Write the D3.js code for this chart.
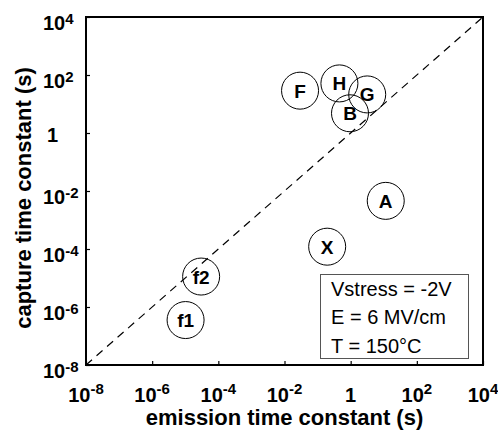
<!DOCTYPE html>
<html>
<head>
<meta charset="utf-8">
<script src="https://cdn.jsdelivr.net/npm/d3@7"></script>
<style>
  body { margin: 0; background: #fff; }
  text { font-family: "Liberation Sans", Arial, sans-serif; }
  .tick-label { font-family: "Liberation Sans Narrow", "Arial Narrow", "Liberation Sans", sans-serif; }
</style>
</head>
<body>
<div id="chart"></div>
<script>
// trap labels and their (emission, capture) time constants in seconds
var traps = ["F", "H", "G", "B", "A", "X", "f2", "f1"];
var emission = [10 ** -1.53, 10 ** -0.34, 10 ** 0.5, 10 ** -0.02, 10 ** 1.06, 10 ** -0.71, 10 ** -4.52, 10 ** -4.99];
var capture = [10 ** 1.46, 10 ** 1.71, 10 ** 1.33, 10 ** 0.68, 10 ** -2.34, 10 ** -3.92, 10 ** -4.95, 10 ** -6.45];

var tickExps = [-8, -6, -4, -2, 0, 2, 4];
var infoLines = ["Vstress = -2V", "E = 6 MV/cm", "T = 150°C"];

var svgWidth = 498;
var svgHeight = 433;
var margin = { top: 17, right: 15, bottom: 68, left: 86 };
var width = svgWidth - margin.left - margin.right;
var height = svgHeight - margin.top - margin.bottom;

var svg = d3.select("#chart")
  .append("svg")
  .attr("width", svgWidth)
  .attr("height", svgHeight);

var g = svg.append("g")
  .attr("transform", `translate(${margin.left}, ${margin.top})`);

var x = d3.scaleLog().domain([1e-8, 1e4]).range([0, width]);
var y = d3.scaleLog().domain([1e-8, 1e4]).range([height, 0]);

var tickVals = tickExps.map(e => 10 ** e);

function tickLabel(sel, supShift) {
  sel.each(function(d) {
    var e = Math.round(Math.log10(d));
    var t = d3.select(this).text(null);
    if (e === 0) {
      t.append("tspan").text("1");
    } else {
      t.append("tspan").text("10");
      t.append("tspan").attr("dy", supShift).attr("font-size", "15px").text(e);
    }
  });
}

// axes with inward ticks
var xAxis = g.append("g")
  .attr("transform", `translate(0, ${height})`)
  .call(d3.axisBottom(x).tickValues(tickVals).tickSizeInner(-4).tickSizeOuter(0).tickFormat(""));
var yAxis = g.append("g")
  .call(d3.axisLeft(y).tickValues(tickVals).tickSizeInner(-4).tickSizeOuter(0).tickFormat(""));

[xAxis, yAxis].forEach(function(a) {
  a.select(".domain").remove();
  a.selectAll(".tick line").attr("stroke", "#000").attr("stroke-width", 1.2);
});

// frame
g.append("rect")
  .attr("width", width)
  .attr("height", height)
  .attr("fill", "none")
  .attr("stroke", "#000")
  .attr("stroke-width", 2);

// tick labels
g.selectAll(".xlab")
  .data(tickVals)
  .enter()
  .append("text")
  .attr("class", "tick-label")
  .attr("x", d => x(d))
  .attr("y", height + 37)
  .attr("text-anchor", "middle")
  .attr("font-size", "20px")
  .attr("font-weight", "bold")
  .call(tickLabel, -8);

g.selectAll(".ylab")
  .data(tickVals)
  .enter()
  .append("text")
  .attr("class", "tick-label")
  .attr("x", d => d === 1 ? -39 : -43)
  .attr("y", d => y(d) + (d === 1 ? 9 : 13))
  .attr("text-anchor", "start")
  .attr("font-size", "20px")
  .attr("font-weight", "bold")
  .call(tickLabel, -6);

// diagonal tau_e = tau_c
g.append("line")
  .attr("x1", x(1e-8)).attr("y1", y(1e-8))
  .attr("x2", x(1e4)).attr("y2", y(1e4))
  .attr("stroke", "#000")
  .attr("stroke-width", 1.2)
  .attr("stroke-dasharray", "8,6");

var pts = traps.map((t, i) => ({ name: t, e: emission[i], c: capture[i] }));

g.selectAll("circle.trap")
  .data(pts)
  .enter()
  .append("circle")
  .attr("class", "trap")
  .attr("cx", d => x(d.e))
  .attr("cy", d => y(d.c))
  .attr("r", 18.5)
  .attr("fill", "none")
  .attr("stroke", "#000")
  .attr("stroke-width", 1);

g.selectAll("text.trap")
  .data(pts)
  .enter()
  .append("text")
  .attr("class", "trap")
  .attr("x", d => x(d.e))
  .attr("y", d => y(d.c) + 7)
  .attr("text-anchor", "middle")
  .attr("font-size", "19px")
  .attr("font-weight", "bold")
  .text(d => d.name);

// info box
var box = g.append("g").attr("transform", `translate(${320.5 - margin.left}, ${274.5 - margin.top})`);
box.append("rect")
  .attr("width", 148)
  .attr("height", 84)
  .attr("fill", "#fff")
  .attr("stroke", "#555")
  .attr("stroke-width", 1);
box.selectAll("text")
  .data(infoLines)
  .enter()
  .append("text")
  .attr("x", 10.5)
  .attr("y", (d, i) => 21.5 + i * 28.3)
  .attr("font-size", "20px")
  .text(d => d);

// axis titles
svg.append("text")
  .attr("x", margin.left + width / 2)
  .attr("y", 425)
  .attr("text-anchor", "middle")
  .attr("font-size", "22px")
  .attr("font-weight", "bold")
  .text("emission time constant (s)");

svg.append("text")
  .attr("transform", `translate(31, ${margin.top + height / 2 + 7}) rotate(-90)`)
  .attr("text-anchor", "middle")
  .attr("font-size", "22px")
  .attr("font-weight", "bold")
  .text("capture time constant (s)");
</script>
</body>
</html>
